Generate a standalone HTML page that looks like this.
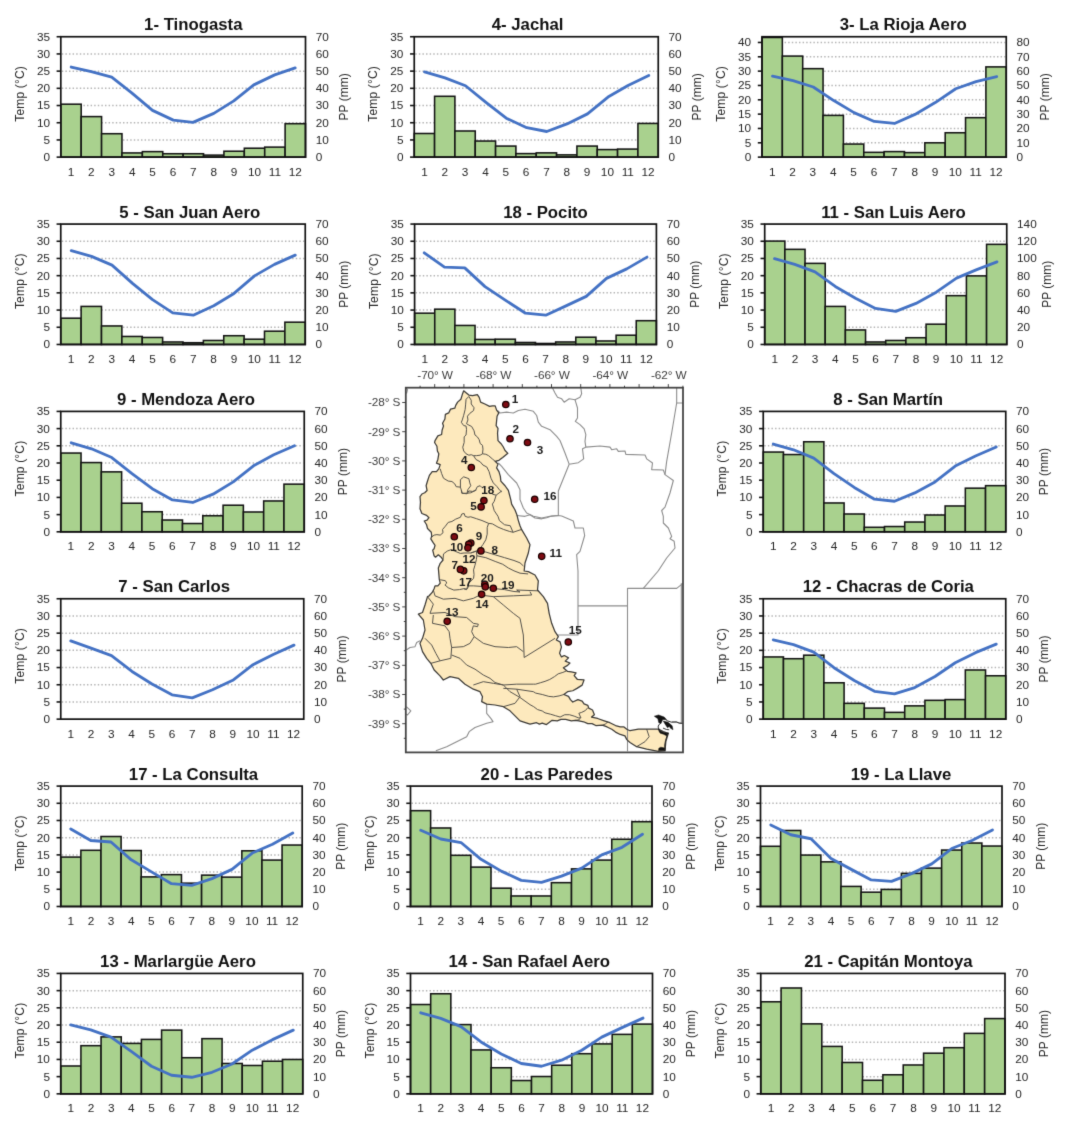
<!DOCTYPE html>
<html lang="es"><head><meta charset="utf-8"><title>Climogramas</title>
<style>html,body{margin:0;padding:0;background:#fff}svg{display:block}text{font-family:"Liberation Sans",sans-serif;fill:#262626}.t{font-size:16.75px;font-weight:bold;text-anchor:middle;fill:#111}.k{font-size:11.8px}.ax{font-size:12px;text-anchor:middle}.e{text-anchor:end}.m{text-anchor:middle}.g{stroke:#b4b4b4;stroke-width:1.5;stroke-dasharray:1.45 2.15;fill:none}.b{fill:#a9d18e;stroke:#141414;stroke-width:1.55}.l{fill:none;stroke:#4472c4;stroke-width:2.85;stroke-linejoin:round;stroke-linecap:round}.fr{fill:none;stroke:#111;stroke-width:1.7}.tk{stroke:#141414;stroke-width:1.6}.ml{font-size:11.8px;fill:#3d3d3d;letter-spacing:-0.1px}.sl{font-size:11.7px;font-weight:bold;text-anchor:middle;fill:#1a1a1a}.pv{fill:none;stroke:#8c8c8c;stroke-width:1.1;stroke-linejoin:round}.sb{fill:none;stroke:#55524b;stroke-width:1;stroke-linejoin:round}.pt{fill:#7d0b12;stroke:#1a0000;stroke-width:1.25}</style></head><body>
<svg width="1068" height="1128" viewBox="0 0 1068 1128">
<defs><filter id="bl" x="0" y="0" width="1068" height="1128" filterUnits="userSpaceOnUse" color-interpolation-filters="sRGB"><feConvolveMatrix order="3" kernelMatrix="0.01134 0.08382 0.01134 0.08382 0.61935 0.08382 0.01134 0.08382 0.01134" divisor="1" edgeMode="duplicate" preserveAlpha="true"/></filter></defs>
<g filter="url(#bl)">
<rect width="1068" height="1128" fill="#fff"/>
<g>
<text class="t" x="193.3" y="30.43">1- Tinogasta</text>
<path class="g" d="M61.8 139.93H304.5"/>
<path class="g" d="M61.8 122.73H304.5"/>
<path class="g" d="M61.8 105.53H304.5"/>
<path class="g" d="M61.8 88.33H304.5"/>
<path class="g" d="M61.8 71.13H304.5"/>
<path class="g" d="M61.8 53.93H304.5"/>
<rect class="b" x="60.8" y="104.19" width="20.39" height="52.94"/>
<rect class="b" x="81.19" y="116.6" width="20.39" height="40.53"/>
<rect class="b" x="101.58" y="133.71" width="20.39" height="23.42"/>
<rect class="b" x="121.97" y="152.93" width="20.39" height="4.2"/>
<rect class="b" x="142.37" y="151.63" width="20.39" height="5.5"/>
<rect class="b" x="162.76" y="153.73" width="20.39" height="3.4"/>
<rect class="b" x="183.15" y="153.73" width="20.39" height="3.4"/>
<rect class="b" x="203.54" y="155.13" width="20.39" height="2"/>
<rect class="b" x="223.93" y="151.23" width="20.39" height="5.9"/>
<rect class="b" x="244.32" y="148.22" width="20.39" height="8.91"/>
<rect class="b" x="264.72" y="147.12" width="20.39" height="10.01"/>
<rect class="b" x="285.11" y="123.7" width="20.39" height="33.43"/>
<rect class="fr" x="60.8" y="36.73" width="244.7" height="120.4"/>
<path class="tk" d="M56.6 157.13H60.8"/>
<text class="k e" x="50" y="161.03">0</text>
<text class="k" x="315.8" y="161.03">0</text>
<path class="tk" d="M56.6 139.93H60.8"/>
<text class="k e" x="50" y="143.83">5</text>
<text class="k" x="315.8" y="143.83">10</text>
<path class="tk" d="M56.6 122.73H60.8"/>
<text class="k e" x="50" y="126.63">10</text>
<text class="k" x="315.8" y="126.63">20</text>
<path class="tk" d="M56.6 105.53H60.8"/>
<text class="k e" x="50" y="109.43">15</text>
<text class="k" x="315.8" y="109.43">30</text>
<path class="tk" d="M56.6 88.33H60.8"/>
<text class="k e" x="50" y="92.23">20</text>
<text class="k" x="315.8" y="92.23">40</text>
<path class="tk" d="M56.6 71.13H60.8"/>
<text class="k e" x="50" y="75.03">25</text>
<text class="k" x="315.8" y="75.03">50</text>
<path class="tk" d="M56.6 53.93H60.8"/>
<text class="k e" x="50" y="57.83">30</text>
<text class="k" x="315.8" y="57.83">60</text>
<path class="tk" d="M56.6 36.73H60.8"/>
<text class="k e" x="50" y="40.63">35</text>
<text class="k" x="315.8" y="40.63">70</text>
<polyline class="l" points="71.2,67.06 91.3,71.66 111.7,77.06 131.7,92.88 152.5,110.39 173.3,120.1 193,122.4 213.8,113.39 233.8,100.88 253.8,84.87 274.7,74.86 295.2,67.86"/>
<text class="k m" x="71" y="175.53">1</text>
<text class="k m" x="91.39" y="175.53">2</text>
<text class="k m" x="111.78" y="175.53">3</text>
<text class="k m" x="132.17" y="175.53">4</text>
<text class="k m" x="152.56" y="175.53">5</text>
<text class="k m" x="172.95" y="175.53">6</text>
<text class="k m" x="193.35" y="175.53">7</text>
<text class="k m" x="213.74" y="175.53">8</text>
<text class="k m" x="234.13" y="175.53">9</text>
<text class="k m" x="254.52" y="175.53">10</text>
<text class="k m" x="274.91" y="175.53">11</text>
<text class="k m" x="295.3" y="175.53">12</text>
<text class="ax" textLength="55.6" transform="translate(24 93.93) rotate(-90)">Temp (°C)</text>
<text class="ax" transform="translate(348 96.93) rotate(-90)">PP (mm)</text>
</g>
<g>
<text class="t" x="527.6" y="30.43">4- Jachal</text>
<path class="g" d="M415.25 139.93H657.25"/>
<path class="g" d="M415.25 122.73H657.25"/>
<path class="g" d="M415.25 105.53H657.25"/>
<path class="g" d="M415.25 88.33H657.25"/>
<path class="g" d="M415.25 71.13H657.25"/>
<path class="g" d="M415.25 53.93H657.25"/>
<rect class="b" x="414.25" y="133.5" width="20.33" height="23.63"/>
<rect class="b" x="434.58" y="96.3" width="20.33" height="60.83"/>
<rect class="b" x="454.92" y="130.99" width="20.33" height="26.14"/>
<rect class="b" x="475.25" y="141.04" width="20.33" height="16.09"/>
<rect class="b" x="495.58" y="146.07" width="20.33" height="11.06"/>
<rect class="b" x="515.92" y="153.61" width="20.33" height="3.52"/>
<rect class="b" x="536.25" y="152.86" width="20.33" height="4.27"/>
<rect class="b" x="556.58" y="154.87" width="20.33" height="2.26"/>
<rect class="b" x="576.92" y="146.07" width="20.33" height="11.06"/>
<rect class="b" x="597.25" y="149.59" width="20.33" height="7.54"/>
<rect class="b" x="617.58" y="149.09" width="20.33" height="8.04"/>
<rect class="b" x="637.92" y="123.45" width="20.33" height="33.68"/>
<rect class="fr" x="414.25" y="36.73" width="244" height="120.4"/>
<path class="tk" d="M410.05 157.13H414.25"/>
<text class="k e" x="403.45" y="161.03">0</text>
<text class="k" x="668.55" y="161.03">0</text>
<path class="tk" d="M410.05 139.93H414.25"/>
<text class="k e" x="403.45" y="143.83">5</text>
<text class="k" x="668.55" y="143.83">10</text>
<path class="tk" d="M410.05 122.73H414.25"/>
<text class="k e" x="403.45" y="126.63">10</text>
<text class="k" x="668.55" y="126.63">20</text>
<path class="tk" d="M410.05 105.53H414.25"/>
<text class="k e" x="403.45" y="109.43">15</text>
<text class="k" x="668.55" y="109.43">30</text>
<path class="tk" d="M410.05 88.33H414.25"/>
<text class="k e" x="403.45" y="92.23">20</text>
<text class="k" x="668.55" y="92.23">40</text>
<path class="tk" d="M410.05 71.13H414.25"/>
<text class="k e" x="403.45" y="75.03">25</text>
<text class="k" x="668.55" y="75.03">50</text>
<path class="tk" d="M410.05 53.93H414.25"/>
<text class="k e" x="403.45" y="57.83">30</text>
<text class="k" x="668.55" y="57.83">60</text>
<path class="tk" d="M410.05 36.73H414.25"/>
<text class="k e" x="403.45" y="40.63">35</text>
<text class="k" x="668.55" y="40.63">70</text>
<polyline class="l" points="424.5,71.92 445,77.95 465.5,85.74 486.25,102.59 506.25,118.17 526.75,127.72 546.75,131.49 567,123.95 587.5,113.9 608,97.06 628,85.49 648.75,75.44"/>
<text class="k m" x="424.42" y="175.53">1</text>
<text class="k m" x="444.75" y="175.53">2</text>
<text class="k m" x="465.08" y="175.53">3</text>
<text class="k m" x="485.42" y="175.53">4</text>
<text class="k m" x="505.75" y="175.53">5</text>
<text class="k m" x="526.08" y="175.53">6</text>
<text class="k m" x="546.42" y="175.53">7</text>
<text class="k m" x="566.75" y="175.53">8</text>
<text class="k m" x="587.08" y="175.53">9</text>
<text class="k m" x="607.42" y="175.53">10</text>
<text class="k m" x="627.75" y="175.53">11</text>
<text class="k m" x="648.08" y="175.53">12</text>
<text class="ax" textLength="55.6" transform="translate(377.45 93.93) rotate(-90)">Temp (°C)</text>
<text class="ax" transform="translate(700.75 96.93) rotate(-90)">PP (mm)</text>
</g>
<g>
<text class="t" x="903.2" y="30.43">3- La Rioja Aero</text>
<path class="g" d="M763 142.8H1005.25"/>
<path class="g" d="M763 128.46H1005.25"/>
<path class="g" d="M763 114.13H1005.25"/>
<path class="g" d="M763 99.8H1005.25"/>
<path class="g" d="M763 85.46H1005.25"/>
<path class="g" d="M763 71.13H1005.25"/>
<path class="g" d="M763 56.8H1005.25"/>
<path class="g" d="M763 42.46H1005.25"/>
<rect class="b" x="762" y="37.48" width="20.35" height="119.65"/>
<rect class="b" x="782.35" y="56.08" width="20.35" height="101.05"/>
<rect class="b" x="802.71" y="68.65" width="20.35" height="88.48"/>
<rect class="b" x="823.06" y="115.4" width="20.35" height="41.73"/>
<rect class="b" x="843.42" y="144.06" width="20.35" height="13.07"/>
<rect class="b" x="863.77" y="152.35" width="20.35" height="4.78"/>
<rect class="b" x="884.12" y="151.6" width="20.35" height="5.53"/>
<rect class="b" x="904.48" y="152.61" width="20.35" height="4.52"/>
<rect class="b" x="924.83" y="142.8" width="20.35" height="14.33"/>
<rect class="b" x="945.19" y="132.75" width="20.35" height="24.38"/>
<rect class="b" x="965.54" y="117.67" width="20.35" height="39.46"/>
<rect class="b" x="985.9" y="66.89" width="20.35" height="90.24"/>
<rect class="fr" x="762" y="36.73" width="244.25" height="120.4"/>
<path class="tk" d="M757.8 157.13H762"/>
<text class="k e" x="751.2" y="161.03">0</text>
<text class="k" x="1016.55" y="161.03">0</text>
<path class="tk" d="M757.8 142.8H762"/>
<text class="k e" x="751.2" y="146.7">5</text>
<text class="k" x="1016.55" y="146.7">10</text>
<path class="tk" d="M757.8 128.46H762"/>
<text class="k e" x="751.2" y="132.36">10</text>
<text class="k" x="1016.55" y="132.36">20</text>
<path class="tk" d="M757.8 114.13H762"/>
<text class="k e" x="751.2" y="118.03">15</text>
<text class="k" x="1016.55" y="118.03">30</text>
<path class="tk" d="M757.8 99.8H762"/>
<text class="k e" x="751.2" y="103.7">20</text>
<text class="k" x="1016.55" y="103.7">40</text>
<path class="tk" d="M757.8 85.46H762"/>
<text class="k e" x="751.2" y="89.36">25</text>
<text class="k" x="1016.55" y="89.36">50</text>
<path class="tk" d="M757.8 71.13H762"/>
<text class="k e" x="751.2" y="75.03">30</text>
<text class="k" x="1016.55" y="75.03">60</text>
<path class="tk" d="M757.8 56.8H762"/>
<text class="k e" x="751.2" y="60.7">35</text>
<text class="k" x="1016.55" y="60.7">70</text>
<path class="tk" d="M757.8 42.46H762"/>
<text class="k e" x="751.2" y="46.36">40</text>
<text class="k" x="1016.55" y="46.36">80</text>
<polyline class="l" points="772.5,76.19 793,80.72 813.25,87 833.75,100.57 854,112.64 874.25,121.44 894.5,123.45 915,114.4 935.25,102.59 955.75,88.76 976,81.72 996.75,76.7"/>
<text class="k m" x="772.18" y="175.53">1</text>
<text class="k m" x="792.53" y="175.53">2</text>
<text class="k m" x="812.89" y="175.53">3</text>
<text class="k m" x="833.24" y="175.53">4</text>
<text class="k m" x="853.59" y="175.53">5</text>
<text class="k m" x="873.95" y="175.53">6</text>
<text class="k m" x="894.3" y="175.53">7</text>
<text class="k m" x="914.66" y="175.53">8</text>
<text class="k m" x="935.01" y="175.53">9</text>
<text class="k m" x="955.36" y="175.53">10</text>
<text class="k m" x="975.72" y="175.53">11</text>
<text class="k m" x="996.07" y="175.53">12</text>
<text class="ax" textLength="55.6" transform="translate(725.2 93.93) rotate(-90)">Temp (°C)</text>
<text class="ax" transform="translate(1048.75 96.93) rotate(-90)">PP (mm)</text>
</g>
<g>
<text class="t" x="189.75" y="217.77">5 - San Juan Aero</text>
<path class="g" d="M61.75 327.27H304.25"/>
<path class="g" d="M61.75 310.07H304.25"/>
<path class="g" d="M61.75 292.87H304.25"/>
<path class="g" d="M61.75 275.67H304.25"/>
<path class="g" d="M61.75 258.47H304.25"/>
<path class="g" d="M61.75 241.27H304.25"/>
<rect class="b" x="60.75" y="318.19" width="20.38" height="26.28"/>
<rect class="b" x="81.12" y="306.42" width="20.38" height="38.05"/>
<rect class="b" x="101.5" y="325.95" width="20.38" height="18.52"/>
<rect class="b" x="121.88" y="336.46" width="20.38" height="8.01"/>
<rect class="b" x="142.25" y="337.46" width="20.38" height="7.01"/>
<rect class="b" x="162.62" y="341.97" width="20.38" height="2.5"/>
<rect class="b" x="183" y="342.72" width="20.38" height="1.75"/>
<rect class="b" x="203.38" y="340.47" width="20.38" height="4"/>
<rect class="b" x="223.75" y="335.71" width="20.38" height="8.76"/>
<rect class="b" x="244.12" y="339.21" width="20.38" height="5.26"/>
<rect class="b" x="264.5" y="331.2" width="20.38" height="13.27"/>
<rect class="b" x="284.88" y="322.19" width="20.38" height="22.28"/>
<rect class="fr" x="60.75" y="224.07" width="244.5" height="120.4"/>
<path class="tk" d="M56.55 344.47H60.75"/>
<text class="k e" x="49.95" y="348.37">0</text>
<text class="k" x="315.55" y="348.37">0</text>
<path class="tk" d="M56.55 327.27H60.75"/>
<text class="k e" x="49.95" y="331.17">5</text>
<text class="k" x="315.55" y="331.17">10</text>
<path class="tk" d="M56.55 310.07H60.75"/>
<text class="k e" x="49.95" y="313.97">10</text>
<text class="k" x="315.55" y="313.97">20</text>
<path class="tk" d="M56.55 292.87H60.75"/>
<text class="k e" x="49.95" y="296.77">15</text>
<text class="k" x="315.55" y="296.77">30</text>
<path class="tk" d="M56.55 275.67H60.75"/>
<text class="k e" x="49.95" y="279.57">20</text>
<text class="k" x="315.55" y="279.57">40</text>
<path class="tk" d="M56.55 258.47H60.75"/>
<text class="k e" x="49.95" y="262.37">25</text>
<text class="k" x="315.55" y="262.37">50</text>
<path class="tk" d="M56.55 241.27H60.75"/>
<text class="k e" x="49.95" y="245.17">30</text>
<text class="k" x="315.55" y="245.17">60</text>
<path class="tk" d="M56.55 224.07H60.75"/>
<text class="k e" x="49.95" y="227.97">35</text>
<text class="k" x="315.55" y="227.97">70</text>
<polyline class="l" points="71.25,250.6 91.5,256.36 112,265.12 132.5,283.39 152.5,299.66 172.75,312.93 193.25,315.18 213.75,305.67 234,293.41 254.5,275.88 274.5,264.37 295.25,255.11"/>
<text class="k m" x="70.94" y="362.87">1</text>
<text class="k m" x="91.31" y="362.87">2</text>
<text class="k m" x="111.69" y="362.87">3</text>
<text class="k m" x="132.06" y="362.87">4</text>
<text class="k m" x="152.44" y="362.87">5</text>
<text class="k m" x="172.81" y="362.87">6</text>
<text class="k m" x="193.19" y="362.87">7</text>
<text class="k m" x="213.56" y="362.87">8</text>
<text class="k m" x="233.94" y="362.87">9</text>
<text class="k m" x="254.31" y="362.87">10</text>
<text class="k m" x="274.69" y="362.87">11</text>
<text class="k m" x="295.06" y="362.87">12</text>
<text class="ax" textLength="55.6" transform="translate(23.95 281.27) rotate(-90)">Temp (°C)</text>
<text class="ax" transform="translate(347.75 284.27) rotate(-90)">PP (mm)</text>
</g>
<g>
<text class="t" x="545.5" y="217.77">18 - Pocito</text>
<path class="g" d="M415.6 327.27H655.4"/>
<path class="g" d="M415.6 310.07H655.4"/>
<path class="g" d="M415.6 292.87H655.4"/>
<path class="g" d="M415.6 275.67H655.4"/>
<path class="g" d="M415.6 258.47H655.4"/>
<path class="g" d="M415.6 241.27H655.4"/>
<rect class="b" x="414.6" y="313.18" width="20.15" height="31.29"/>
<rect class="b" x="434.75" y="309.18" width="20.15" height="35.29"/>
<rect class="b" x="454.9" y="325.45" width="20.15" height="19.02"/>
<rect class="b" x="475.05" y="339.46" width="20.15" height="5.01"/>
<rect class="b" x="495.2" y="339.21" width="20.15" height="5.26"/>
<rect class="b" x="515.35" y="342.47" width="20.15" height="2"/>
<rect class="b" x="535.5" y="343.47" width="20.15" height="1"/>
<rect class="b" x="555.65" y="341.97" width="20.15" height="2.5"/>
<rect class="b" x="575.8" y="337.21" width="20.15" height="7.26"/>
<rect class="b" x="595.95" y="340.97" width="20.15" height="3.5"/>
<rect class="b" x="616.1" y="335.21" width="20.15" height="9.26"/>
<rect class="b" x="636.25" y="320.69" width="20.15" height="23.78"/>
<rect class="fr" x="414.6" y="224.07" width="241.8" height="120.4"/>
<path class="tk" d="M410.4 344.47H414.6"/>
<text class="k e" x="403.8" y="348.37">0</text>
<text class="k" x="666.7" y="348.37">0</text>
<path class="tk" d="M410.4 327.27H414.6"/>
<text class="k e" x="403.8" y="331.17">5</text>
<text class="k" x="666.7" y="331.17">10</text>
<path class="tk" d="M410.4 310.07H414.6"/>
<text class="k e" x="403.8" y="313.97">10</text>
<text class="k" x="666.7" y="313.97">20</text>
<path class="tk" d="M410.4 292.87H414.6"/>
<text class="k e" x="403.8" y="296.77">15</text>
<text class="k" x="666.7" y="296.77">30</text>
<path class="tk" d="M410.4 275.67H414.6"/>
<text class="k e" x="403.8" y="279.57">20</text>
<text class="k" x="666.7" y="279.57">40</text>
<path class="tk" d="M410.4 258.47H414.6"/>
<text class="k e" x="403.8" y="262.37">25</text>
<text class="k" x="666.7" y="262.37">50</text>
<path class="tk" d="M410.4 241.27H414.6"/>
<text class="k e" x="403.8" y="245.17">30</text>
<text class="k" x="666.7" y="245.17">60</text>
<path class="tk" d="M410.4 224.07H414.6"/>
<text class="k e" x="403.8" y="227.97">35</text>
<text class="k" x="666.7" y="227.97">70</text>
<polyline class="l" points="424.25,252.86 444.5,267.12 464.75,267.87 485,286.65 505.25,300.16 525.5,313.18 545.75,315.18 566,305.92 586.25,296.41 606.5,278.39 626.75,268.88 647,257.11"/>
<text class="k m" x="424.68" y="362.87">1</text>
<text class="k m" x="444.83" y="362.87">2</text>
<text class="k m" x="464.98" y="362.87">3</text>
<text class="k m" x="485.12" y="362.87">4</text>
<text class="k m" x="505.27" y="362.87">5</text>
<text class="k m" x="525.42" y="362.87">6</text>
<text class="k m" x="545.58" y="362.87">7</text>
<text class="k m" x="565.73" y="362.87">8</text>
<text class="k m" x="585.88" y="362.87">9</text>
<text class="k m" x="606.02" y="362.87">10</text>
<text class="k m" x="626.17" y="362.87">11</text>
<text class="k m" x="646.32" y="362.87">12</text>
<text class="ax" textLength="55.6" transform="translate(377.8 281.27) rotate(-90)">Temp (°C)</text>
<text class="ax" transform="translate(698.9 284.27) rotate(-90)">PP (mm)</text>
</g>
<g>
<text class="t" x="893.5" y="217.77">11 - San Luis Aero</text>
<path class="g" d="M765.7 327.27H1005.75"/>
<path class="g" d="M765.7 310.07H1005.75"/>
<path class="g" d="M765.7 292.87H1005.75"/>
<path class="g" d="M765.7 275.67H1005.75"/>
<path class="g" d="M765.7 258.47H1005.75"/>
<path class="g" d="M765.7 241.27H1005.75"/>
<rect class="b" x="764.7" y="241.09" width="20.17" height="103.38"/>
<rect class="b" x="784.87" y="249.35" width="20.17" height="95.12"/>
<rect class="b" x="805.04" y="263.37" width="20.17" height="81.1"/>
<rect class="b" x="825.21" y="306.42" width="20.17" height="38.05"/>
<rect class="b" x="845.38" y="329.95" width="20.17" height="14.52"/>
<rect class="b" x="865.55" y="341.97" width="20.17" height="2.5"/>
<rect class="b" x="885.73" y="340.47" width="20.17" height="4"/>
<rect class="b" x="905.9" y="337.71" width="20.17" height="6.76"/>
<rect class="b" x="926.07" y="324.19" width="20.17" height="20.28"/>
<rect class="b" x="946.24" y="295.66" width="20.17" height="48.81"/>
<rect class="b" x="966.41" y="275.88" width="20.17" height="68.59"/>
<rect class="b" x="986.58" y="244.35" width="20.17" height="100.12"/>
<rect class="fr" x="764.7" y="224.07" width="242.05" height="120.4"/>
<path class="tk" d="M760.5 344.47H764.7"/>
<text class="k e" x="753.9" y="348.37">0</text>
<text class="k" x="1017.05" y="348.37">0</text>
<path class="tk" d="M760.5 327.27H764.7"/>
<text class="k e" x="753.9" y="331.17">5</text>
<text class="k" x="1017.05" y="331.17">20</text>
<path class="tk" d="M760.5 310.07H764.7"/>
<text class="k e" x="753.9" y="313.97">10</text>
<text class="k" x="1017.05" y="313.97">40</text>
<path class="tk" d="M760.5 292.87H764.7"/>
<text class="k e" x="753.9" y="296.77">15</text>
<text class="k" x="1017.05" y="296.77">60</text>
<path class="tk" d="M760.5 275.67H764.7"/>
<text class="k e" x="753.9" y="279.57">20</text>
<text class="k" x="1017.05" y="279.57">80</text>
<path class="tk" d="M760.5 258.47H764.7"/>
<text class="k e" x="753.9" y="262.37">25</text>
<text class="k" x="1017.05" y="262.37">100</text>
<path class="tk" d="M760.5 241.27H764.7"/>
<text class="k e" x="753.9" y="245.17">30</text>
<text class="k" x="1017.05" y="245.17">120</text>
<path class="tk" d="M760.5 224.07H764.7"/>
<text class="k e" x="753.9" y="227.97">35</text>
<text class="k" x="1017.05" y="227.97">140</text>
<polyline class="l" points="774.5,258.61 794.75,264.37 815,271.88 835.25,286.4 855.5,298.16 875.5,308.43 895.75,311.43 916,303.42 936.25,292.15 956.5,278.14 976.75,269.63 997,261.87"/>
<text class="k m" x="774.79" y="362.87">1</text>
<text class="k m" x="794.96" y="362.87">2</text>
<text class="k m" x="815.13" y="362.87">3</text>
<text class="k m" x="835.3" y="362.87">4</text>
<text class="k m" x="855.47" y="362.87">5</text>
<text class="k m" x="875.64" y="362.87">6</text>
<text class="k m" x="895.81" y="362.87">7</text>
<text class="k m" x="915.98" y="362.87">8</text>
<text class="k m" x="936.15" y="362.87">9</text>
<text class="k m" x="956.32" y="362.87">10</text>
<text class="k m" x="976.49" y="362.87">11</text>
<text class="k m" x="996.66" y="362.87">12</text>
<text class="ax" textLength="55.6" transform="translate(727.9 281.27) rotate(-90)">Temp (°C)</text>
<text class="ax" transform="translate(1051.25 284.27) rotate(-90)">PP (mm)</text>
</g>
<g>
<text class="t" x="186" y="405.11">9 - Mendoza Aero</text>
<path class="g" d="M61.75 514.61H303.25"/>
<path class="g" d="M61.75 497.41H303.25"/>
<path class="g" d="M61.75 480.21H303.25"/>
<path class="g" d="M61.75 463.01H303.25"/>
<path class="g" d="M61.75 445.81H303.25"/>
<path class="g" d="M61.75 428.61H303.25"/>
<rect class="b" x="60.75" y="453.05" width="20.29" height="78.76"/>
<rect class="b" x="81.04" y="462.58" width="20.29" height="69.23"/>
<rect class="b" x="101.33" y="471.86" width="20.29" height="59.95"/>
<rect class="b" x="121.62" y="503.22" width="20.29" height="28.6"/>
<rect class="b" x="141.92" y="511.74" width="20.29" height="20.07"/>
<rect class="b" x="162.21" y="520.02" width="20.29" height="11.79"/>
<rect class="b" x="182.5" y="523.53" width="20.29" height="8.28"/>
<rect class="b" x="202.79" y="515.76" width="20.29" height="16.05"/>
<rect class="b" x="223.08" y="505.22" width="20.29" height="26.59"/>
<rect class="b" x="243.38" y="511.99" width="20.29" height="19.82"/>
<rect class="b" x="263.67" y="500.96" width="20.29" height="30.85"/>
<rect class="b" x="283.96" y="484.15" width="20.29" height="47.66"/>
<rect class="fr" x="60.75" y="411.41" width="243.5" height="120.4"/>
<path class="tk" d="M56.55 531.81H60.75"/>
<text class="k e" x="49.95" y="535.71">0</text>
<text class="k" x="314.55" y="535.71">0</text>
<path class="tk" d="M56.55 514.61H60.75"/>
<text class="k e" x="49.95" y="518.51">5</text>
<text class="k" x="314.55" y="518.51">10</text>
<path class="tk" d="M56.55 497.41H60.75"/>
<text class="k e" x="49.95" y="501.31">10</text>
<text class="k" x="314.55" y="501.31">20</text>
<path class="tk" d="M56.55 480.21H60.75"/>
<text class="k e" x="49.95" y="484.11">15</text>
<text class="k" x="314.55" y="484.11">30</text>
<path class="tk" d="M56.55 463.01H60.75"/>
<text class="k e" x="49.95" y="466.91">20</text>
<text class="k" x="314.55" y="466.91">40</text>
<path class="tk" d="M56.55 445.81H60.75"/>
<text class="k e" x="49.95" y="449.71">25</text>
<text class="k" x="314.55" y="449.71">50</text>
<path class="tk" d="M56.55 428.61H60.75"/>
<text class="k e" x="49.95" y="432.51">30</text>
<text class="k" x="314.55" y="432.51">60</text>
<path class="tk" d="M56.55 411.41H60.75"/>
<text class="k e" x="49.95" y="415.31">35</text>
<text class="k" x="314.55" y="415.31">70</text>
<polyline class="l" points="71.25,442.76 91.5,448.78 111.75,457.56 132,473.62 152.25,488.67 172.5,499.95 192.75,502.46 213,494.19 233.25,481.89 253.5,465.84 273.75,454.8 294.5,445.77"/>
<text class="k m" x="70.9" y="550.21">1</text>
<text class="k m" x="91.19" y="550.21">2</text>
<text class="k m" x="111.48" y="550.21">3</text>
<text class="k m" x="131.77" y="550.21">4</text>
<text class="k m" x="152.06" y="550.21">5</text>
<text class="k m" x="172.35" y="550.21">6</text>
<text class="k m" x="192.65" y="550.21">7</text>
<text class="k m" x="212.94" y="550.21">8</text>
<text class="k m" x="233.23" y="550.21">9</text>
<text class="k m" x="253.52" y="550.21">10</text>
<text class="k m" x="273.81" y="550.21">11</text>
<text class="k m" x="294.1" y="550.21">12</text>
<text class="ax" textLength="55.6" transform="translate(23.95 468.61) rotate(-90)">Temp (°C)</text>
<text class="ax" transform="translate(346.75 471.61) rotate(-90)">PP (mm)</text>
</g>
<g>
<text class="t" x="888.2" y="405.11">8 - San Martín</text>
<path class="g" d="M764.25 514.61H1004.75"/>
<path class="g" d="M764.25 497.41H1004.75"/>
<path class="g" d="M764.25 480.21H1004.75"/>
<path class="g" d="M764.25 463.01H1004.75"/>
<path class="g" d="M764.25 445.81H1004.75"/>
<path class="g" d="M764.25 428.61H1004.75"/>
<rect class="b" x="763.25" y="452.05" width="20.21" height="79.77"/>
<rect class="b" x="783.46" y="454.55" width="20.21" height="77.26"/>
<rect class="b" x="803.67" y="441.76" width="20.21" height="90.05"/>
<rect class="b" x="823.88" y="502.96" width="20.21" height="28.85"/>
<rect class="b" x="844.08" y="514" width="20.21" height="17.81"/>
<rect class="b" x="864.29" y="527.3" width="20.21" height="4.51"/>
<rect class="b" x="884.5" y="526.54" width="20.21" height="5.27"/>
<rect class="b" x="904.71" y="522.03" width="20.21" height="9.78"/>
<rect class="b" x="924.92" y="515" width="20.21" height="16.81"/>
<rect class="b" x="945.12" y="505.97" width="20.21" height="25.84"/>
<rect class="b" x="965.33" y="488.17" width="20.21" height="43.64"/>
<rect class="b" x="985.54" y="485.66" width="20.21" height="46.15"/>
<rect class="fr" x="763.25" y="411.41" width="242.5" height="120.4"/>
<path class="tk" d="M759.05 531.81H763.25"/>
<text class="k e" x="752.45" y="535.71">0</text>
<text class="k" x="1016.05" y="535.71">0</text>
<path class="tk" d="M759.05 514.61H763.25"/>
<text class="k e" x="752.45" y="518.51">5</text>
<text class="k" x="1016.05" y="518.51">10</text>
<path class="tk" d="M759.05 497.41H763.25"/>
<text class="k e" x="752.45" y="501.31">10</text>
<text class="k" x="1016.05" y="501.31">20</text>
<path class="tk" d="M759.05 480.21H763.25"/>
<text class="k e" x="752.45" y="484.11">15</text>
<text class="k" x="1016.05" y="484.11">30</text>
<path class="tk" d="M759.05 463.01H763.25"/>
<text class="k e" x="752.45" y="466.91">20</text>
<text class="k" x="1016.05" y="466.91">40</text>
<path class="tk" d="M759.05 445.81H763.25"/>
<text class="k e" x="752.45" y="449.71">25</text>
<text class="k" x="1016.05" y="449.71">50</text>
<path class="tk" d="M759.05 428.61H763.25"/>
<text class="k e" x="752.45" y="432.51">30</text>
<text class="k" x="1016.05" y="432.51">60</text>
<path class="tk" d="M759.05 411.41H763.25"/>
<text class="k e" x="752.45" y="415.31">35</text>
<text class="k" x="1016.05" y="415.31">70</text>
<polyline class="l" points="773.25,444.02 793.5,449.79 813.75,458.07 834,473.62 854.25,487.41 874.5,499.2 894.5,501.21 914.75,492.93 935,481.89 955.25,466.09 975.5,456.06 996.25,447.03"/>
<text class="k m" x="773.35" y="550.21">1</text>
<text class="k m" x="793.56" y="550.21">2</text>
<text class="k m" x="813.77" y="550.21">3</text>
<text class="k m" x="833.98" y="550.21">4</text>
<text class="k m" x="854.19" y="550.21">5</text>
<text class="k m" x="874.4" y="550.21">6</text>
<text class="k m" x="894.6" y="550.21">7</text>
<text class="k m" x="914.81" y="550.21">8</text>
<text class="k m" x="935.02" y="550.21">9</text>
<text class="k m" x="955.23" y="550.21">10</text>
<text class="k m" x="975.44" y="550.21">11</text>
<text class="k m" x="995.65" y="550.21">12</text>
<text class="ax" textLength="55.6" transform="translate(726.45 468.61) rotate(-90)">Temp (°C)</text>
<text class="ax" transform="translate(1048.25 471.61) rotate(-90)">PP (mm)</text>
</g>
<g>
<text class="t" x="174.2" y="592.45">7 - San Carlos</text>
<path class="g" d="M61.75 701.95H302.75"/>
<path class="g" d="M61.75 684.75H302.75"/>
<path class="g" d="M61.75 667.55H302.75"/>
<path class="g" d="M61.75 650.35H302.75"/>
<path class="g" d="M61.75 633.15H302.75"/>
<path class="g" d="M61.75 615.95H302.75"/>
<rect class="fr" x="60.75" y="598.75" width="243" height="120.4"/>
<path class="tk" d="M56.55 719.15H60.75"/>
<text class="k e" x="49.95" y="723.05">0</text>
<text class="k" x="314.05" y="723.05">0</text>
<path class="tk" d="M56.55 701.95H60.75"/>
<text class="k e" x="49.95" y="705.85">5</text>
<text class="k" x="314.05" y="705.85">10</text>
<path class="tk" d="M56.55 684.75H60.75"/>
<text class="k e" x="49.95" y="688.65">10</text>
<text class="k" x="314.05" y="688.65">20</text>
<path class="tk" d="M56.55 667.55H60.75"/>
<text class="k e" x="49.95" y="671.45">15</text>
<text class="k" x="314.05" y="671.45">30</text>
<path class="tk" d="M56.55 650.35H60.75"/>
<text class="k e" x="49.95" y="654.25">20</text>
<text class="k" x="314.05" y="654.25">40</text>
<path class="tk" d="M56.55 633.15H60.75"/>
<text class="k e" x="49.95" y="637.05">25</text>
<text class="k" x="314.05" y="637.05">50</text>
<path class="tk" d="M56.55 615.95H60.75"/>
<text class="k e" x="49.95" y="619.85">30</text>
<text class="k" x="314.05" y="619.85">60</text>
<path class="tk" d="M56.55 598.75H60.75"/>
<text class="k e" x="49.95" y="602.65">35</text>
<text class="k" x="314.05" y="602.65">70</text>
<polyline class="l" points="70.75,640.89 91,648.16 111.5,655.69 132,671.49 152,684.03 172,694.82 192.25,697.83 212.5,689.8 232.75,680.27 253,664.72 273.25,654.43 294,645.15"/>
<text class="k m" x="70.88" y="737.55">1</text>
<text class="k m" x="91.12" y="737.55">2</text>
<text class="k m" x="111.38" y="737.55">3</text>
<text class="k m" x="131.62" y="737.55">4</text>
<text class="k m" x="151.88" y="737.55">5</text>
<text class="k m" x="172.12" y="737.55">6</text>
<text class="k m" x="192.38" y="737.55">7</text>
<text class="k m" x="212.62" y="737.55">8</text>
<text class="k m" x="232.88" y="737.55">9</text>
<text class="k m" x="253.12" y="737.55">10</text>
<text class="k m" x="273.38" y="737.55">11</text>
<text class="k m" x="293.62" y="737.55">12</text>
<text class="ax" textLength="55.6" transform="translate(23.95 655.95) rotate(-90)">Temp (°C)</text>
<text class="ax" transform="translate(346.25 658.95) rotate(-90)">PP (mm)</text>
</g>
<g>
<text class="t" x="888.3" y="592.45">12 - Chacras de Coria</text>
<path class="g" d="M764.25 701.95H1004.75"/>
<path class="g" d="M764.25 684.75H1004.75"/>
<path class="g" d="M764.25 667.55H1004.75"/>
<path class="g" d="M764.25 650.35H1004.75"/>
<path class="g" d="M764.25 633.15H1004.75"/>
<path class="g" d="M764.25 615.95H1004.75"/>
<rect class="b" x="763.25" y="656.94" width="20.21" height="62.21"/>
<rect class="b" x="783.46" y="658.7" width="20.21" height="60.45"/>
<rect class="b" x="803.67" y="655.19" width="20.21" height="63.96"/>
<rect class="b" x="823.88" y="682.78" width="20.21" height="36.37"/>
<rect class="b" x="844.08" y="703.35" width="20.21" height="15.8"/>
<rect class="b" x="864.29" y="708.11" width="20.21" height="11.04"/>
<rect class="b" x="884.5" y="712.38" width="20.21" height="6.77"/>
<rect class="b" x="904.71" y="705.86" width="20.21" height="13.29"/>
<rect class="b" x="924.92" y="700.34" width="20.21" height="18.81"/>
<rect class="b" x="945.12" y="699.59" width="20.21" height="19.56"/>
<rect class="b" x="965.33" y="669.99" width="20.21" height="49.16"/>
<rect class="b" x="985.54" y="675.76" width="20.21" height="43.39"/>
<rect class="fr" x="763.25" y="598.75" width="242.5" height="120.4"/>
<path class="tk" d="M759.05 719.15H763.25"/>
<text class="k e" x="752.45" y="723.05">0</text>
<text class="k" x="1016.05" y="723.05">0</text>
<path class="tk" d="M759.05 701.95H763.25"/>
<text class="k e" x="752.45" y="705.85">5</text>
<text class="k" x="1016.05" y="705.85">10</text>
<path class="tk" d="M759.05 684.75H763.25"/>
<text class="k e" x="752.45" y="688.65">10</text>
<text class="k" x="1016.05" y="688.65">20</text>
<path class="tk" d="M759.05 667.55H763.25"/>
<text class="k e" x="752.45" y="671.45">15</text>
<text class="k" x="1016.05" y="671.45">30</text>
<path class="tk" d="M759.05 650.35H763.25"/>
<text class="k e" x="752.45" y="654.25">20</text>
<text class="k" x="1016.05" y="654.25">40</text>
<path class="tk" d="M759.05 633.15H763.25"/>
<text class="k e" x="752.45" y="637.05">25</text>
<text class="k" x="1016.05" y="637.05">50</text>
<path class="tk" d="M759.05 615.95H763.25"/>
<text class="k e" x="752.45" y="619.85">30</text>
<text class="k" x="1016.05" y="619.85">60</text>
<path class="tk" d="M759.05 598.75H763.25"/>
<text class="k e" x="752.45" y="602.65">35</text>
<text class="k" x="1016.05" y="602.65">70</text>
<polyline class="l" points="773.25,639.89 793.5,644.65 813.75,652.18 834,667.73 854.25,680.52 874.5,691.31 894.5,693.82 914.75,687.54 935,676.51 955.25,662.71 975.5,652.68 996.25,644.15"/>
<text class="k m" x="773.35" y="737.55">1</text>
<text class="k m" x="793.56" y="737.55">2</text>
<text class="k m" x="813.77" y="737.55">3</text>
<text class="k m" x="833.98" y="737.55">4</text>
<text class="k m" x="854.19" y="737.55">5</text>
<text class="k m" x="874.4" y="737.55">6</text>
<text class="k m" x="894.6" y="737.55">7</text>
<text class="k m" x="914.81" y="737.55">8</text>
<text class="k m" x="935.02" y="737.55">9</text>
<text class="k m" x="955.23" y="737.55">10</text>
<text class="k m" x="975.44" y="737.55">11</text>
<text class="k m" x="995.65" y="737.55">12</text>
<text class="ax" textLength="55.6" transform="translate(726.45 655.95) rotate(-90)">Temp (°C)</text>
<text class="ax" transform="translate(1048.25 658.95) rotate(-90)">PP (mm)</text>
</g>
<g>
<text class="t" x="193.5" y="779.79">17 - La Consulta</text>
<path class="g" d="M61.75 889.29H301.2"/>
<path class="g" d="M61.75 872.09H301.2"/>
<path class="g" d="M61.75 854.89H301.2"/>
<path class="g" d="M61.75 837.69H301.2"/>
<path class="g" d="M61.75 820.49H301.2"/>
<path class="g" d="M61.75 803.29H301.2"/>
<rect class="b" x="60.75" y="857.08" width="20.12" height="49.41"/>
<rect class="b" x="80.87" y="850.3" width="20.12" height="56.19"/>
<rect class="b" x="100.99" y="836.51" width="20.12" height="69.98"/>
<rect class="b" x="121.11" y="850.55" width="20.12" height="55.94"/>
<rect class="b" x="141.23" y="876.89" width="20.12" height="29.6"/>
<rect class="b" x="161.35" y="874.63" width="20.12" height="31.86"/>
<rect class="b" x="181.47" y="883.16" width="20.12" height="23.33"/>
<rect class="b" x="201.6" y="875.14" width="20.12" height="31.35"/>
<rect class="b" x="221.72" y="877.14" width="20.12" height="29.35"/>
<rect class="b" x="241.84" y="850.81" width="20.12" height="55.68"/>
<rect class="b" x="261.96" y="860.09" width="20.12" height="46.4"/>
<rect class="b" x="282.08" y="845.04" width="20.12" height="61.45"/>
<rect class="fr" x="60.75" y="786.09" width="241.45" height="120.4"/>
<path class="tk" d="M56.55 906.49H60.75"/>
<text class="k e" x="49.95" y="910.39">0</text>
<text class="k" x="312.5" y="910.39">0</text>
<path class="tk" d="M56.55 889.29H60.75"/>
<text class="k e" x="49.95" y="893.19">5</text>
<text class="k" x="312.5" y="893.19">10</text>
<path class="tk" d="M56.55 872.09H60.75"/>
<text class="k e" x="49.95" y="875.99">10</text>
<text class="k" x="312.5" y="875.99">20</text>
<path class="tk" d="M56.55 854.89H60.75"/>
<text class="k e" x="49.95" y="858.79">15</text>
<text class="k" x="312.5" y="858.79">30</text>
<path class="tk" d="M56.55 837.69H60.75"/>
<text class="k e" x="49.95" y="841.59">20</text>
<text class="k" x="312.5" y="841.59">40</text>
<path class="tk" d="M56.55 820.49H60.75"/>
<text class="k e" x="49.95" y="824.39">25</text>
<text class="k" x="312.5" y="824.39">50</text>
<path class="tk" d="M56.55 803.29H60.75"/>
<text class="k e" x="49.95" y="807.19">30</text>
<text class="k" x="312.5" y="807.19">60</text>
<path class="tk" d="M56.55 786.09H60.75"/>
<text class="k e" x="49.95" y="789.99">35</text>
<text class="k" x="312.5" y="789.99">70</text>
<polyline class="l" points="70.75,828.98 90.75,840.52 111,842.03 131.25,859.84 151.5,871.88 171.5,883.66 191.75,885.42 212,878.65 232,869.37 252.25,853.06 272.5,844.28 292.75,833"/>
<text class="k m" x="70.81" y="924.89">1</text>
<text class="k m" x="90.93" y="924.89">2</text>
<text class="k m" x="111.05" y="924.89">3</text>
<text class="k m" x="131.17" y="924.89">4</text>
<text class="k m" x="151.29" y="924.89">5</text>
<text class="k m" x="171.41" y="924.89">6</text>
<text class="k m" x="191.54" y="924.89">7</text>
<text class="k m" x="211.66" y="924.89">8</text>
<text class="k m" x="231.78" y="924.89">9</text>
<text class="k m" x="251.9" y="924.89">10</text>
<text class="k m" x="272.02" y="924.89">11</text>
<text class="k m" x="292.14" y="924.89">12</text>
<text class="ax" textLength="55.6" transform="translate(23.95 843.29) rotate(-90)">Temp (°C)</text>
<text class="ax" transform="translate(344.7 846.29) rotate(-90)">PP (mm)</text>
</g>
<g>
<text class="t" x="546.7" y="779.79">20 - Las Paredes</text>
<path class="g" d="M411.5 889.29H651"/>
<path class="g" d="M411.5 872.09H651"/>
<path class="g" d="M411.5 854.89H651"/>
<path class="g" d="M411.5 837.69H651"/>
<path class="g" d="M411.5 820.49H651"/>
<path class="g" d="M411.5 803.29H651"/>
<rect class="b" x="410.5" y="810.67" width="20.12" height="95.82"/>
<rect class="b" x="430.62" y="827.98" width="20.12" height="78.51"/>
<rect class="b" x="450.75" y="855.32" width="20.12" height="51.17"/>
<rect class="b" x="470.88" y="867.11" width="20.12" height="39.38"/>
<rect class="b" x="491" y="888.18" width="20.12" height="18.31"/>
<rect class="b" x="511.12" y="895.96" width="20.12" height="10.53"/>
<rect class="b" x="531.25" y="895.96" width="20.12" height="10.53"/>
<rect class="b" x="551.38" y="882.66" width="20.12" height="23.83"/>
<rect class="b" x="571.5" y="868.87" width="20.12" height="37.62"/>
<rect class="b" x="591.62" y="860.09" width="20.12" height="46.4"/>
<rect class="b" x="611.75" y="839.27" width="20.12" height="67.22"/>
<rect class="b" x="631.88" y="821.71" width="20.12" height="84.78"/>
<rect class="fr" x="410.5" y="786.09" width="241.5" height="120.4"/>
<path class="tk" d="M406.3 906.49H410.5"/>
<text class="k e" x="399.7" y="910.39">0</text>
<text class="k" x="662.3" y="910.39">0</text>
<path class="tk" d="M406.3 889.29H410.5"/>
<text class="k e" x="399.7" y="893.19">5</text>
<text class="k" x="662.3" y="893.19">10</text>
<path class="tk" d="M406.3 872.09H410.5"/>
<text class="k e" x="399.7" y="875.99">10</text>
<text class="k" x="662.3" y="875.99">20</text>
<path class="tk" d="M406.3 854.89H410.5"/>
<text class="k e" x="399.7" y="858.79">15</text>
<text class="k" x="662.3" y="858.79">30</text>
<path class="tk" d="M406.3 837.69H410.5"/>
<text class="k e" x="399.7" y="841.59">20</text>
<text class="k" x="662.3" y="841.59">40</text>
<path class="tk" d="M406.3 820.49H410.5"/>
<text class="k e" x="399.7" y="824.39">25</text>
<text class="k" x="662.3" y="824.39">50</text>
<path class="tk" d="M406.3 803.29H410.5"/>
<text class="k e" x="399.7" y="807.19">30</text>
<text class="k" x="662.3" y="807.19">60</text>
<path class="tk" d="M406.3 786.09H410.5"/>
<text class="k e" x="399.7" y="789.99">35</text>
<text class="k" x="662.3" y="789.99">70</text>
<polyline class="l" points="420.75,830.24 440.75,839.02 461,842.53 481,859.33 501.25,871.12 521.25,880.4 541.5,882.41 561.5,876.14 581.75,868.11 601.75,854.82 622,847.29 642.5,834.25"/>
<text class="k m" x="420.56" y="924.89">1</text>
<text class="k m" x="440.69" y="924.89">2</text>
<text class="k m" x="460.81" y="924.89">3</text>
<text class="k m" x="480.94" y="924.89">4</text>
<text class="k m" x="501.06" y="924.89">5</text>
<text class="k m" x="521.19" y="924.89">6</text>
<text class="k m" x="541.31" y="924.89">7</text>
<text class="k m" x="561.44" y="924.89">8</text>
<text class="k m" x="581.56" y="924.89">9</text>
<text class="k m" x="601.69" y="924.89">10</text>
<text class="k m" x="621.81" y="924.89">11</text>
<text class="k m" x="641.94" y="924.89">12</text>
<text class="ax" textLength="55.6" transform="translate(373.7 843.29) rotate(-90)">Temp (°C)</text>
<text class="ax" transform="translate(694.5 846.29) rotate(-90)">PP (mm)</text>
</g>
<g>
<text class="t" x="901" y="779.79">19 - La Llave</text>
<path class="g" d="M761.5 889.29H1001"/>
<path class="g" d="M761.5 872.09H1001"/>
<path class="g" d="M761.5 854.89H1001"/>
<path class="g" d="M761.5 837.69H1001"/>
<path class="g" d="M761.5 820.49H1001"/>
<path class="g" d="M761.5 803.29H1001"/>
<rect class="b" x="760.5" y="846.29" width="20.12" height="60.2"/>
<rect class="b" x="780.62" y="830.49" width="20.12" height="76"/>
<rect class="b" x="800.75" y="855.07" width="20.12" height="51.42"/>
<rect class="b" x="820.88" y="861.84" width="20.12" height="44.65"/>
<rect class="b" x="841" y="886.42" width="20.12" height="20.07"/>
<rect class="b" x="861.12" y="892.19" width="20.12" height="14.3"/>
<rect class="b" x="881.25" y="889.43" width="20.12" height="17.06"/>
<rect class="b" x="901.38" y="873.38" width="20.12" height="33.11"/>
<rect class="b" x="921.5" y="868.11" width="20.12" height="38.38"/>
<rect class="b" x="941.62" y="850.05" width="20.12" height="56.44"/>
<rect class="b" x="961.75" y="843.03" width="20.12" height="63.46"/>
<rect class="b" x="981.88" y="846.04" width="20.12" height="60.45"/>
<rect class="fr" x="760.5" y="786.09" width="241.5" height="120.4"/>
<path class="tk" d="M756.3 906.49H760.5"/>
<text class="k e" x="749.7" y="910.39">0</text>
<text class="k" x="1012.3" y="910.39">0</text>
<path class="tk" d="M756.3 889.29H760.5"/>
<text class="k e" x="749.7" y="893.19">5</text>
<text class="k" x="1012.3" y="893.19">10</text>
<path class="tk" d="M756.3 872.09H760.5"/>
<text class="k e" x="749.7" y="875.99">10</text>
<text class="k" x="1012.3" y="875.99">20</text>
<path class="tk" d="M756.3 854.89H760.5"/>
<text class="k e" x="749.7" y="858.79">15</text>
<text class="k" x="1012.3" y="858.79">30</text>
<path class="tk" d="M756.3 837.69H760.5"/>
<text class="k e" x="749.7" y="841.59">20</text>
<text class="k" x="1012.3" y="841.59">40</text>
<path class="tk" d="M756.3 820.49H760.5"/>
<text class="k e" x="749.7" y="824.39">25</text>
<text class="k" x="1012.3" y="824.39">50</text>
<path class="tk" d="M756.3 803.29H760.5"/>
<text class="k e" x="749.7" y="807.19">30</text>
<text class="k" x="1012.3" y="807.19">60</text>
<path class="tk" d="M756.3 786.09H760.5"/>
<text class="k e" x="749.7" y="789.99">35</text>
<text class="k" x="1012.3" y="789.99">70</text>
<polyline class="l" points="770.75,824.97 790.75,834.75 811,838.76 831,858.58 851.25,869.37 871.25,879.9 891.5,881.41 911.5,873.63 931.75,863.85 951.75,848.55 972,840.52 992.5,829.99"/>
<text class="k m" x="770.56" y="924.89">1</text>
<text class="k m" x="790.69" y="924.89">2</text>
<text class="k m" x="810.81" y="924.89">3</text>
<text class="k m" x="830.94" y="924.89">4</text>
<text class="k m" x="851.06" y="924.89">5</text>
<text class="k m" x="871.19" y="924.89">6</text>
<text class="k m" x="891.31" y="924.89">7</text>
<text class="k m" x="911.44" y="924.89">8</text>
<text class="k m" x="931.56" y="924.89">9</text>
<text class="k m" x="951.69" y="924.89">10</text>
<text class="k m" x="971.81" y="924.89">11</text>
<text class="k m" x="991.94" y="924.89">12</text>
<text class="ax" textLength="55.6" transform="translate(723.7 843.29) rotate(-90)">Temp (°C)</text>
<text class="ax" transform="translate(1044.5 846.29) rotate(-90)">PP (mm)</text>
</g>
<g>
<text class="t" x="178" y="967.13">13 - Marlargüe Aero</text>
<path class="g" d="M61.75 1076.63H301.75"/>
<path class="g" d="M61.75 1059.43H301.75"/>
<path class="g" d="M61.75 1042.23H301.75"/>
<path class="g" d="M61.75 1025.03H301.75"/>
<path class="g" d="M61.75 1007.83H301.75"/>
<path class="g" d="M61.75 990.63H301.75"/>
<rect class="b" x="60.75" y="1065.99" width="20.17" height="27.84"/>
<rect class="b" x="80.92" y="1045.67" width="20.17" height="48.16"/>
<rect class="b" x="101.08" y="1036.89" width="20.17" height="56.94"/>
<rect class="b" x="121.25" y="1043.41" width="20.17" height="50.42"/>
<rect class="b" x="141.42" y="1039.4" width="20.17" height="54.43"/>
<rect class="b" x="161.58" y="1030.12" width="20.17" height="63.71"/>
<rect class="b" x="181.75" y="1057.71" width="20.17" height="36.12"/>
<rect class="b" x="201.92" y="1038.65" width="20.17" height="55.18"/>
<rect class="b" x="222.08" y="1063.48" width="20.17" height="30.35"/>
<rect class="b" x="242.25" y="1065.49" width="20.17" height="28.34"/>
<rect class="b" x="262.42" y="1061.22" width="20.17" height="32.61"/>
<rect class="b" x="282.58" y="1059.47" width="20.17" height="34.36"/>
<rect class="fr" x="60.75" y="973.43" width="242" height="120.4"/>
<path class="tk" d="M56.55 1093.83H60.75"/>
<text class="k e" x="49.95" y="1097.73">0</text>
<text class="k" x="313.05" y="1097.73">0</text>
<path class="tk" d="M56.55 1076.63H60.75"/>
<text class="k e" x="49.95" y="1080.53">5</text>
<text class="k" x="313.05" y="1080.53">10</text>
<path class="tk" d="M56.55 1059.43H60.75"/>
<text class="k e" x="49.95" y="1063.33">10</text>
<text class="k" x="313.05" y="1063.33">20</text>
<path class="tk" d="M56.55 1042.23H60.75"/>
<text class="k e" x="49.95" y="1046.13">15</text>
<text class="k" x="313.05" y="1046.13">30</text>
<path class="tk" d="M56.55 1025.03H60.75"/>
<text class="k e" x="49.95" y="1028.93">20</text>
<text class="k" x="313.05" y="1028.93">40</text>
<path class="tk" d="M56.55 1007.83H60.75"/>
<text class="k e" x="49.95" y="1011.73">25</text>
<text class="k" x="313.05" y="1011.73">50</text>
<path class="tk" d="M56.55 990.63H60.75"/>
<text class="k e" x="49.95" y="994.53">30</text>
<text class="k" x="313.05" y="994.53">60</text>
<path class="tk" d="M56.55 973.43H60.75"/>
<text class="k e" x="49.95" y="977.33">35</text>
<text class="k" x="313.05" y="977.33">70</text>
<polyline class="l" points="70.75,1024.85 90.75,1029.87 111,1037.14 131.25,1051.44 151.5,1066.24 171.5,1075.27 191.75,1077.28 212,1072.26 232,1063.98 252.25,1050.19 272.5,1039.65 293.25,1030.12"/>
<text class="k m" x="70.83" y="1112.23">1</text>
<text class="k m" x="91" y="1112.23">2</text>
<text class="k m" x="111.17" y="1112.23">3</text>
<text class="k m" x="131.33" y="1112.23">4</text>
<text class="k m" x="151.5" y="1112.23">5</text>
<text class="k m" x="171.67" y="1112.23">6</text>
<text class="k m" x="191.83" y="1112.23">7</text>
<text class="k m" x="212" y="1112.23">8</text>
<text class="k m" x="232.17" y="1112.23">9</text>
<text class="k m" x="252.33" y="1112.23">10</text>
<text class="k m" x="272.5" y="1112.23">11</text>
<text class="k m" x="292.67" y="1112.23">12</text>
<text class="ax" textLength="55.6" transform="translate(23.95 1030.63) rotate(-90)">Temp (°C)</text>
<text class="ax" transform="translate(345.25 1033.63) rotate(-90)">PP (mm)</text>
</g>
<g>
<text class="t" x="529.3" y="967.13">14 - San Rafael Aero</text>
<path class="g" d="M411.5 1076.63H651.5"/>
<path class="g" d="M411.5 1059.43H651.5"/>
<path class="g" d="M411.5 1042.23H651.5"/>
<path class="g" d="M411.5 1025.03H651.5"/>
<path class="g" d="M411.5 1007.83H651.5"/>
<path class="g" d="M411.5 990.63H651.5"/>
<rect class="b" x="410.5" y="1004.53" width="20.17" height="89.3"/>
<rect class="b" x="430.67" y="993.75" width="20.17" height="100.08"/>
<rect class="b" x="450.83" y="1024.6" width="20.17" height="69.23"/>
<rect class="b" x="471" y="1049.93" width="20.17" height="43.9"/>
<rect class="b" x="491.17" y="1067.74" width="20.17" height="26.09"/>
<rect class="b" x="511.33" y="1080.54" width="20.17" height="13.29"/>
<rect class="b" x="531.5" y="1076.52" width="20.17" height="17.31"/>
<rect class="b" x="551.67" y="1065.24" width="20.17" height="28.6"/>
<rect class="b" x="571.83" y="1053.7" width="20.17" height="40.13"/>
<rect class="b" x="592" y="1043.91" width="20.17" height="49.92"/>
<rect class="b" x="612.17" y="1034.38" width="20.17" height="59.45"/>
<rect class="b" x="632.33" y="1024.1" width="20.17" height="69.73"/>
<rect class="fr" x="410.5" y="973.43" width="242" height="120.4"/>
<path class="tk" d="M406.3 1093.83H410.5"/>
<text class="k e" x="399.7" y="1097.73">0</text>
<text class="k" x="662.8" y="1097.73">0</text>
<path class="tk" d="M406.3 1076.63H410.5"/>
<text class="k e" x="399.7" y="1080.53">5</text>
<text class="k" x="662.8" y="1080.53">10</text>
<path class="tk" d="M406.3 1059.43H410.5"/>
<text class="k e" x="399.7" y="1063.33">10</text>
<text class="k" x="662.8" y="1063.33">20</text>
<path class="tk" d="M406.3 1042.23H410.5"/>
<text class="k e" x="399.7" y="1046.13">15</text>
<text class="k" x="662.8" y="1046.13">30</text>
<path class="tk" d="M406.3 1025.03H410.5"/>
<text class="k e" x="399.7" y="1028.93">20</text>
<text class="k" x="662.8" y="1028.93">40</text>
<path class="tk" d="M406.3 1007.83H410.5"/>
<text class="k e" x="399.7" y="1011.73">25</text>
<text class="k" x="662.8" y="1011.73">50</text>
<path class="tk" d="M406.3 990.63H410.5"/>
<text class="k e" x="399.7" y="994.53">30</text>
<text class="k" x="662.8" y="994.53">60</text>
<path class="tk" d="M406.3 973.43H410.5"/>
<text class="k e" x="399.7" y="977.33">35</text>
<text class="k" x="662.8" y="977.33">70</text>
<polyline class="l" points="420.75,1012.81 440.75,1018.33 461,1026.61 481,1041.91 501.25,1053.95 521.25,1063.48 541.5,1066.24 561.5,1060.22 581.75,1050.19 601.75,1037.14 622,1027.61 643,1018.08"/>
<text class="k m" x="420.58" y="1112.23">1</text>
<text class="k m" x="440.75" y="1112.23">2</text>
<text class="k m" x="460.92" y="1112.23">3</text>
<text class="k m" x="481.08" y="1112.23">4</text>
<text class="k m" x="501.25" y="1112.23">5</text>
<text class="k m" x="521.42" y="1112.23">6</text>
<text class="k m" x="541.58" y="1112.23">7</text>
<text class="k m" x="561.75" y="1112.23">8</text>
<text class="k m" x="581.92" y="1112.23">9</text>
<text class="k m" x="602.08" y="1112.23">10</text>
<text class="k m" x="622.25" y="1112.23">11</text>
<text class="k m" x="642.42" y="1112.23">12</text>
<text class="ax" textLength="55.6" transform="translate(373.7 1030.63) rotate(-90)">Temp (°C)</text>
<text class="ax" transform="translate(695 1033.63) rotate(-90)">PP (mm)</text>
</g>
<g>
<text class="t" x="888.4" y="967.13">21 - Capitán Montoya</text>
<path class="g" d="M761.75 1076.63H1004"/>
<path class="g" d="M761.75 1059.43H1004"/>
<path class="g" d="M761.75 1042.23H1004"/>
<path class="g" d="M761.75 1025.03H1004"/>
<path class="g" d="M761.75 1007.83H1004"/>
<path class="g" d="M761.75 990.63H1004"/>
<rect class="b" x="760.75" y="1001.77" width="20.35" height="92.06"/>
<rect class="b" x="781.1" y="987.98" width="20.35" height="105.85"/>
<rect class="b" x="801.46" y="1023.85" width="20.35" height="69.98"/>
<rect class="b" x="821.81" y="1046.42" width="20.35" height="47.41"/>
<rect class="b" x="842.17" y="1062.48" width="20.35" height="31.35"/>
<rect class="b" x="862.52" y="1080.29" width="20.35" height="13.55"/>
<rect class="b" x="882.88" y="1074.77" width="20.35" height="19.06"/>
<rect class="b" x="903.23" y="1064.98" width="20.35" height="28.85"/>
<rect class="b" x="923.58" y="1053.2" width="20.35" height="40.63"/>
<rect class="b" x="943.94" y="1047.68" width="20.35" height="46.15"/>
<rect class="b" x="964.29" y="1033.38" width="20.35" height="60.45"/>
<rect class="b" x="984.65" y="1018.58" width="20.35" height="75.25"/>
<rect class="fr" x="760.75" y="973.43" width="244.25" height="120.4"/>
<path class="tk" d="M756.55 1093.83H760.75"/>
<text class="k e" x="749.95" y="1097.73">0</text>
<text class="k" x="1015.3" y="1097.73">0</text>
<path class="tk" d="M756.55 1076.63H760.75"/>
<text class="k e" x="749.95" y="1080.53">5</text>
<text class="k" x="1015.3" y="1080.53">10</text>
<path class="tk" d="M756.55 1059.43H760.75"/>
<text class="k e" x="749.95" y="1063.33">10</text>
<text class="k" x="1015.3" y="1063.33">20</text>
<path class="tk" d="M756.55 1042.23H760.75"/>
<text class="k e" x="749.95" y="1046.13">15</text>
<text class="k" x="1015.3" y="1046.13">30</text>
<path class="tk" d="M756.55 1025.03H760.75"/>
<text class="k e" x="749.95" y="1028.93">20</text>
<text class="k" x="1015.3" y="1028.93">40</text>
<path class="tk" d="M756.55 1007.83H760.75"/>
<text class="k e" x="749.95" y="1011.73">25</text>
<text class="k" x="1015.3" y="1011.73">50</text>
<path class="tk" d="M756.55 990.63H760.75"/>
<text class="k e" x="749.95" y="994.53">30</text>
<text class="k" x="1015.3" y="994.53">60</text>
<path class="tk" d="M756.55 973.43H760.75"/>
<text class="k e" x="749.95" y="977.33">35</text>
<text class="k" x="1015.3" y="977.33">70</text>
<text class="k m" x="770.93" y="1112.23">1</text>
<text class="k m" x="791.28" y="1112.23">2</text>
<text class="k m" x="811.64" y="1112.23">3</text>
<text class="k m" x="831.99" y="1112.23">4</text>
<text class="k m" x="852.34" y="1112.23">5</text>
<text class="k m" x="872.7" y="1112.23">6</text>
<text class="k m" x="893.05" y="1112.23">7</text>
<text class="k m" x="913.41" y="1112.23">8</text>
<text class="k m" x="933.76" y="1112.23">9</text>
<text class="k m" x="954.11" y="1112.23">10</text>
<text class="k m" x="974.47" y="1112.23">11</text>
<text class="k m" x="994.82" y="1112.23">12</text>
<text class="ax" textLength="55.6" transform="translate(723.95 1030.63) rotate(-90)">Temp (°C)</text>
<text class="ax" transform="translate(1047.5 1033.63) rotate(-90)">PP (mm)</text>
</g>
<g>
<clipPath id="mc"><rect x="405.8" y="387.7" width="277.2" height="364.7"/></clipPath>
<g clip-path="url(#mc)">
<path d="M463.7 390.82 L466.05 392.7 L468.87 395.05 L472.63 395.52 L477.33 394.58 L479.21 397.4 L480.62 402.1 L484.85 403.98 L489.55 406.33 L492.37 405.86 L495.19 405.86 L496.6 410.09 L498.76 412.91 L497.07 416.2 L496.6 420.89 L496.13 425.59 L498.01 428.41 L497.54 433.11 L498.01 440.63 L500.83 443.45 L503.18 446.74 L505.06 450.5 L507.88 453.32 L502.71 457.55 L498.95 460.37 L495.19 461.31 L498.01 464.13 L496.6 467.89 L498.95 471.65 L500.36 476.35 L500.83 481.05 L505.06 485.74 L508.35 490.44 L509.29 494.02 L510.7 499.4 L511.64 504.1 L514.92 509.74 L516.8 514.44 L518.21 520.08 L520 525.71 L521.67 529.67 L526.67 538 L530 544.67 L528.33 553 L525 563 L524.17 571 L528.33 571.67 L535 575 L538.33 580.83 L537.5 590 L543.33 596.67 L547.5 603.33 L549.17 613.33 L551.67 623.33 L555 631.67 L558.33 636.67 L556.32 640 L560.08 641.88 L561.48 647.05 L559.61 653.16 L561.48 656.92 L564.3 655.51 L568.53 657.86 L565.24 661.15 L569.94 663.03 L567.59 665.38 L563.36 667.73 L567.59 671.48 L571.35 671.95 L576.05 672.89 L574.17 675.71 L577.46 679.47 L584.04 679.94 L582.16 685.11 L576.99 688.4 L572.76 690.75 L567.59 691.69 L563.83 694.51 L568.53 696.39 L570.41 699.68 L572.76 702.03 L577.93 699.68 L582.16 701.09 L584.04 703.91 L587.8 705.32 L588.74 708.14 L592.5 710.02 L594.38 714.72 L591.56 717.07 L597.67 718.48 L604.25 720.83 L609.89 722.71 L615.53 725.53 L620.23 726.94 L623.98 726.94 L626.8 729.29 L630 730.7 L638.33 729.17 L648.33 729.17 L658.33 729.17 L663.33 731.67 L668.33 733.33 L665.83 741.67 L665 750.83 L658.33 751.33 L646.67 749.17 L636.67 746.67 L630 742.44 L626.8 739.62 L624.92 735.86 L620.23 734.45 L615.53 732.11 L611.77 729.29 L607.07 726.94 L602.37 725.06 L595.79 725.53 L592.03 723.65 L587.8 723.65 L583.57 721.77 L578.87 720.83 L575.11 720.36 L571.35 720.83 L565.71 719.42 L561.02 719.42 L557.26 720.83 L552.09 720.36 L546.45 724.59 L542.22 723.18 L539.4 724.12 L536.58 722.71 L530 724.12 L520 720.83 L515 715.83 L510 710.83 L503.33 706.67 L495 705 L486.67 704.17 L481.67 701.67 L482.5 696.67 L480 691.67 L473.33 689.17 L465 684.17 L458.33 678.33 L450 676.67 L443.33 680 L440 675.83 L434.17 670 L430.83 663.33 L426.67 658.33 L422.5 651.67 L420 643.33 L422.5 638.33 L425 630 L423.33 620 L418.33 614.17 L422.5 612.5 L425 605 L427.5 596.67 L428.93 596.02 L432.22 592.44 L434.1 588.68 L435.04 585.86 L437.86 585.86 L440.21 583.05 L439.27 579.29 L438.8 573.65 L438.33 568.01 L440.21 563.31 L443.03 560.02 L441.15 557.2 L438.33 554.85 L435.51 557.2 L434.1 555.79 L432.69 550.15 L434.1 548.74 L435.04 545.45 L433.16 542.63 L430.81 538.87 L431.75 536.05 L431.28 532.29 L427.52 528.53 L426.58 524.77 L424.23 521.02 L427.05 520.08 L428.93 517.73 L426.58 515.38 L421.88 513.5 L420 508.8 L420.47 502.22 L420 496.58 L421.88 494.23 L421.88 494.02 L424.7 492.79 L427.05 490.44 L426.11 485.74 L427.52 481.05 L429.4 475.41 L432.22 471.65 L436.45 471.65 L438.8 468.83 L440.21 464.6 L436.45 463.19 L437.86 459.43 L438.8 453.79 L437.39 450.97 L436.92 446.27 L434.57 442.51 L435.04 440.63 L437.86 435.93 L441.62 434.52 L442.09 430.29 L443.5 426.06 L442.56 423.24 L444.91 419.02 L445.38 414.32 L448.67 412.91 L450.55 409.15 L454.77 408.21 L455.71 405.39 L457.59 402.1 L460.88 399.28 L462.29 394.58Z" fill="#fde9bd" stroke="none"/>
<path class="pv" d="M552.5 388 L555 393 L557.5 397.17 L561.67 398.83 L564.17 402.17 L569.17 398.83 L575 399.67 L580 397.17 L581.67 393.83 L580.83 388"/>
<path class="pv" d="M575 399.67 L577.5 408 L577.5 418 L575.33 421.33 L580 424.67 L584.17 428.83 L585.83 434.67 L585 441.33 L585.83 447.17"/>
<path class="pv" d="M585.83 447.17 L600 446 L610 447.17 L611.67 449.67 L616.67 448.83 L618.33 451.33 L625 451 L625.83 454.33 L645 455 L646.67 458.83 L652.5 463 L651.67 469.67 L663.33 470 L665 474.67 L673.33 480.5 L670 493 L665 507.17 L661.67 510.5 L663.33 516.33 L663.33 523 L668.33 528 L671.67 536.33 L670 538.83 L674.17 541.33 L675 548 L666.67 558 L658.17 571"/>
<path class="pv" d="M676.67 388 L676.67 403 L671.67 433 L666.67 461.33 L665 474.67"/>
<path class="pv" d="M676.67 403 L683 403"/>
<path class="pv" d="M497.5 410.5 L500 413 L506.67 412.17 L513.33 413 L518.33 410.5 L525 409.33 L533.33 411.33 L536.67 415.5 L538.33 422.17 L541.67 426.33 L550 429.67 L556.67 436.33 L560 440.5 L565 453 L569.17 464.17"/>
<path class="pv" d="M585.83 447.17 L582.5 448.83 L583.67 458.83 L578.33 462.67 L569.17 464.17"/>
<path class="pv" d="M569.17 464.17 L558.33 491 L558.33 515.5"/>
<path class="pv" d="M516.67 515.5 L525 516.33 L530 514.67 L535 518 L541.67 518.83 L546.67 517.67 L551.67 516 L558.33 515.5 L561.67 516 L573.33 521 L575 528 L583.33 528 L584.67 535.5 L580 551.33 L576.67 554.67 L578 571"/>
<path class="pv" d="M498.33 463 L501.67 466.33 L508.33 474.67 L516.67 483 L520 489.67 L520 499.67 L523.33 508 L526.67 513 L533.33 516.33 L541.67 518 L550 516.33 L558.33 515.5"/>
<path class="pv" d="M578 571 L578 635 L557.5 635"/>
<path class="pv" d="M578 605.83 L627.5 605.83"/>
<path class="pv" d="M627.5 751.33 L627.5 588.33 L676.67 588.33 L683 583.33"/>
<path class="pv" d="M643.33 588.33 L658.17 571"/>
<path class="pv" d="M681.33 583.33 L681.33 723.33"/>
<path class="pv" d="M671.67 721.67 L683 723.33"/>
<path class="pv" d="M406.33 650 L410 647.5 L415 646.67 L416.67 642.5 L420 640.83"/>
<path class="pv" d="M486.67 704.17 L486.67 713.33 L490.83 718.33 L493 721.67 L486.67 723.33 L475 727.5 L469.17 731.67 L466.67 736.67 L456.67 741.67 L446.67 746.67 L435.83 750.83"/>
<path class="pv" d="M406.33 706.67 L410.83 710.83 L407.5 715 L406.33 714.17"/>
<path class="pv" d="M406.33 388 L407.5 389.67 L406.67 393 L406.33 393.33"/>
<path class="sb" d="M468.87 396.46 L466.05 399.28 L465.58 404.92 L465.11 409.62 L463.7 415.26 L462.29 419.95 L461.35 422.3 L463.7 425.59 L466.05 426.06 L466.52 429.35 L466.05 434.99 L464.17 436.87 L464.17 442.51 L462.76 447.21 L463.7 450.97 L466.05 453.79 L468.87 455.2 L471.22 454.73 L473.57 455.67 L476.39 455.67 L480.15 455.2 L482.5 453.79 L485.79 454.26 L488.61 455.67 L492.37 458.96 L495.19 461.31"/>
<path class="sb" d="M468.87 396.46 L471.22 400.22 L471.22 403.98 L474.04 407.74 L473.57 410.56 L469.81 413.38 L467.46 416.2 L467.93 419.95 L466.52 423.71 L468.87 425.12 L471.69 426.53 L474.04 430.76 L474.98 434.99 L477.33 436.87 L479.21 439.69 L480.15 443.45 L482.5 445.33 L482.97 449.09 L482.5 453.79"/>
<path class="sb" d="M473.57 455.67 L475.92 459.43 L480.15 461.78 L482.97 465.07 L486.73 466.95 L489.08 471.65 L490.96 478.23 L493.31 482.92 L497.07 486.68 L499.89 490.44 L501.77 491.85"/>
<path class="sb" d="M440.21 468.83 L441.62 473.53 L443.5 478.23 L448.2 481.05 L451.95 481.52 L454.77 483.86 L456.18 486.68 L460.41 487.15"/>
<path class="sb" d="M460.41 487.15 L460.41 479.64 L463.7 476.82 L468.87 478.7 L469.81 482.92 L470.75 485.74 L467.93 489.5 L466.99 493.26 L462.29 493.26 L460.41 487.15"/>
<path class="sb" d="M466.99 493.26 L470.75 492.79 L475.45 490.44 L477.33 486.68 L480.15 485.74 L482.03 487.62"/>
<path class="sb" d="M461.35 490 L461.82 493.29 L466.99 493.76 L468.87 490.94 L472.63 491.41 L476.39 490"/>
<path class="sb" d="M501.77 490.94 L496.13 495.17 L492.37 494.23"/>
<path class="sb" d="M496.13 495.17 L494.25 501.28 L492.37 504.1 L494.25 510.68 L498.01 516.32 L499.42 520.55 L504.59 524.77 L510.23 525.71 L513.05 532.29"/>
<path class="sb" d="M431.75 536.99 L434.1 535.11 L436.92 534.64 L440.21 535.11 L443.03 532.76 L442.56 529.47 L445.38 526.18 L448.2 522.42 L451.95 521.48 L455.71 519.14 L460.41 517.26 L461.82 513.97 L464.17 513.5 L465.11 516.32 L467.93 517.26 L470.75 516.79 L476.39 518.67 L482.03 520.55 L488.61 523.36 L492.37 523.83 L498.01 527.12 L503.65 529.47 L509.29 531.35 L513.05 532.29 L520 529.94 L521.97 529.47"/>
<path class="sb" d="M488.61 523.36 L487.2 527.59 L487.2 534.17 L485.79 539.81 L482.97 544.51 L480.15 548.27 L476.39 551.09 L470.75 552.97"/>
<path class="sb" d="M443.03 559.55 L443.5 553.91 L447.26 551.09 L451.02 549.68 L454.77 551.09 L460.41 553.44 L464.17 552.97 L470.75 552.97 L476.39 551.09 L485.79 552.03 L495.19 554.85 L504.59 557.67 L513.98 560.49 L520 562.84 L523.48 566.03"/>
<path class="sb" d="M476.39 551.09 L476.86 555.79 L476.39 559.55 L474.98 565.19 L473.57 569.89 L474.04 574.59 L473.57 578.35 L468.87 583.05 L466.52 589.62 L463.7 588.68"/>
<path class="sb" d="M476.86 555.79 L485.79 557.67 L495.19 561.43 L502.71 564.25 L508.35 568.01 L513.98 570.83 L520 573.18 L528.08 573.93"/>
<path class="sb" d="M440.21 579.76 L445.38 580.7 L446.79 583.05 L444.91 584.92 L448.2 587.74 L453.83 590.09 L459.47 589.62 L463.7 588.68 L466.99 589.15 L468.87 585.86 L473.57 585.86 L480.15 586.33 L485.79 586.8 L495.19 588.68 L504.59 589.62 L513.98 591.5 L520 591.97 L516.67 590 L538.33 590.83"/>
<path class="sb" d="M433.33 590 L435 595.83 L443.33 599.17 L455 598.33 L463.33 600.83 L473.33 598.33 L480 595 L493.33 596.67 L513.33 595.83 L531.67 595 L530 591.67"/>
<path class="sb" d="M493.33 596.67 L503.33 605 L513.33 613.33 L520 618.33 L523.33 635 L524.17 657.5 L555 638.33"/>
<path class="sb" d="M427.5 596.67 L433.33 604.17 L430 613.33 L445 612.5 L455 616.67 L466.67 617.5 L473.33 623.33 L478.33 624.17 L477.5 626.67 L473.33 625.83 L471.67 631.67 L474.17 636.67 L470 643.33 L463.33 646.67 L451.67 647.5"/>
<path class="sb" d="M433.33 615 L432.5 623.33 L445 625.83 L449.17 631.67 L450 638.33 L451.67 647.5 L450.83 658.33 L440 660.83"/>
<path class="sb" d="M474.17 636.67 L483.33 643.33 L495 646.67 L508.33 647.5 L516.67 646.67 L523.33 651.67"/>
<path class="sb" d="M425 638.33 L431.67 645 L435.83 653.33 L440 660.83 L430.83 663.33"/>
<path class="sb" d="M451.67 655 L460 658.33 L466.67 665 L475 669.17 L483.33 675 L490 678.33 L495 682.5 L503.33 685 L516.67 684.17 L533.33 684.17 L535.64 684.17 L540.34 682.76 L545.04 681.35 L549.74 679.47 L554.44 676.65 L558.2 673.83 L562.89 672.42 L566.18 671.02"/>
<path class="sb" d="M473.33 685 L483.33 681.67 L493.33 683.33 L503.33 685"/>
<path class="sb" d="M503.33 685 L510 691.67 L520 697.5 L530 704.67 L533.76 706.73 L537.52 709.55 L542.22 710.96 L545.04 712.84 L550.68 714.25 L555.38 715.66 L560.08 717.07 L564.77 714.72 L569.47 714.72 L574.17 716.13 L578.87 718.01 L580.75 717.54"/>
<path class="sb" d="M503.33 688.33 L516.67 689.17 L533.33 691.67 L533.33 691.67 L535.64 693.1 L542.22 694.51 L548.8 696.39 L553.5 696.86 L559.14 695.92 L563.83 694.51"/>
<path class="sb" d="M516.67 689.17 L520 696.67 L515 703.33 L503.33 706.67"/>
<path class="sb" d="M587.8 707.67 L585.45 710.49 L581.69 712.37 L578.87 713.31 L580.75 717.54 L578.87 719.89 L575.11 720.36"/>
<path class="sb" d="M608.01 721.77 L605.19 724.12 L602.84 725.06"/>
<path class="sb" d="M646.67 729.17 L649.17 736.67 L645 741.67 L636.67 746.67"/>
<path d="M463.7 390.82 L466.05 392.7 L468.87 395.05 L472.63 395.52 L477.33 394.58 L479.21 397.4 L480.62 402.1 L484.85 403.98 L489.55 406.33 L492.37 405.86 L495.19 405.86 L496.6 410.09 L498.76 412.91 L497.07 416.2 L496.6 420.89 L496.13 425.59 L498.01 428.41 L497.54 433.11 L498.01 440.63 L500.83 443.45 L503.18 446.74 L505.06 450.5 L507.88 453.32 L502.71 457.55 L498.95 460.37 L495.19 461.31 L498.01 464.13 L496.6 467.89 L498.95 471.65 L500.36 476.35 L500.83 481.05 L505.06 485.74 L508.35 490.44 L509.29 494.02 L510.7 499.4 L511.64 504.1 L514.92 509.74 L516.8 514.44 L518.21 520.08 L520 525.71 L521.67 529.67 L526.67 538 L530 544.67 L528.33 553 L525 563 L524.17 571 L528.33 571.67 L535 575 L538.33 580.83 L537.5 590 L543.33 596.67 L547.5 603.33 L549.17 613.33 L551.67 623.33 L555 631.67 L558.33 636.67 L556.32 640 L560.08 641.88 L561.48 647.05 L559.61 653.16 L561.48 656.92 L564.3 655.51 L568.53 657.86 L565.24 661.15 L569.94 663.03 L567.59 665.38 L563.36 667.73 L567.59 671.48 L571.35 671.95 L576.05 672.89 L574.17 675.71 L577.46 679.47 L584.04 679.94 L582.16 685.11 L576.99 688.4 L572.76 690.75 L567.59 691.69 L563.83 694.51 L568.53 696.39 L570.41 699.68 L572.76 702.03 L577.93 699.68 L582.16 701.09 L584.04 703.91 L587.8 705.32 L588.74 708.14 L592.5 710.02 L594.38 714.72 L591.56 717.07 L597.67 718.48 L604.25 720.83 L609.89 722.71 L615.53 725.53 L620.23 726.94 L623.98 726.94 L626.8 729.29 L630 730.7 L638.33 729.17 L648.33 729.17 L658.33 729.17 L663.33 731.67 L668.33 733.33 L665.83 741.67 L665 750.83 L658.33 751.33 L646.67 749.17 L636.67 746.67 L630 742.44 L626.8 739.62 L624.92 735.86 L620.23 734.45 L615.53 732.11 L611.77 729.29 L607.07 726.94 L602.37 725.06 L595.79 725.53 L592.03 723.65 L587.8 723.65 L583.57 721.77 L578.87 720.83 L575.11 720.36 L571.35 720.83 L565.71 719.42 L561.02 719.42 L557.26 720.83 L552.09 720.36 L546.45 724.59 L542.22 723.18 L539.4 724.12 L536.58 722.71 L530 724.12 L520 720.83 L515 715.83 L510 710.83 L503.33 706.67 L495 705 L486.67 704.17 L481.67 701.67 L482.5 696.67 L480 691.67 L473.33 689.17 L465 684.17 L458.33 678.33 L450 676.67 L443.33 680 L440 675.83 L434.17 670 L430.83 663.33 L426.67 658.33 L422.5 651.67 L420 643.33 L422.5 638.33 L425 630 L423.33 620 L418.33 614.17 L422.5 612.5 L425 605 L427.5 596.67 L428.93 596.02 L432.22 592.44 L434.1 588.68 L435.04 585.86 L437.86 585.86 L440.21 583.05 L439.27 579.29 L438.8 573.65 L438.33 568.01 L440.21 563.31 L443.03 560.02 L441.15 557.2 L438.33 554.85 L435.51 557.2 L434.1 555.79 L432.69 550.15 L434.1 548.74 L435.04 545.45 L433.16 542.63 L430.81 538.87 L431.75 536.05 L431.28 532.29 L427.52 528.53 L426.58 524.77 L424.23 521.02 L427.05 520.08 L428.93 517.73 L426.58 515.38 L421.88 513.5 L420 508.8 L420.47 502.22 L420 496.58 L421.88 494.23 L421.88 494.02 L424.7 492.79 L427.05 490.44 L426.11 485.74 L427.52 481.05 L429.4 475.41 L432.22 471.65 L436.45 471.65 L438.8 468.83 L440.21 464.6 L436.45 463.19 L437.86 459.43 L438.8 453.79 L437.39 450.97 L436.92 446.27 L434.57 442.51 L435.04 440.63 L437.86 435.93 L441.62 434.52 L442.09 430.29 L443.5 426.06 L442.56 423.24 L444.91 419.02 L445.38 414.32 L448.67 412.91 L450.55 409.15 L454.77 408.21 L455.71 405.39 L457.59 402.1 L460.88 399.28 L462.29 394.58Z" fill="none" stroke="#3d3b37" stroke-width="1.25" stroke-linejoin="round"/>
<path d="M654.33 716.18 L658.54 714.94 L664.16 717.02 L666.69 719.78 L662.75 719.38 L661.07 723.31 L658.82 722.75 L657.87 718.82Z" fill="#111" stroke="#111" stroke-width="0.5" stroke-linejoin="round"/>
<path d="M663.31 721.07 L668.09 722.36 L672.13 725.73 L673.03 729.66 L670.62 728.37 L669.21 726.4 L667.53 727.81 L665 723.88Z" fill="#111" stroke="#111" stroke-width="0.5" stroke-linejoin="round"/>
<path d="M658.54 728.09 L659.66 730.62 L662.47 732.02 L666.4 733.15 L668.37 732.87 L666.97 735.96 L663.6 734.27 L660.22 733.15 L658.82 730.9Z" fill="#111" stroke="#111" stroke-width="0.5" stroke-linejoin="round"/>
<path d="M658.82 748.31 L660.79 747.19 L664.72 748.03 L664.72 750.56 L658.54 750.56Z" fill="#111" stroke="#111" stroke-width="0.5" stroke-linejoin="round"/>
<path d="M666.4 720.51 L671.46 722.19 L676.52 721.8 L679.33 723.31 L682.98 723.31" fill="none" stroke="#1c1c1c" stroke-width="0.9"/>
<path d="M661.07 723.03 L658.82 724.72 L658.09 726.97 L658.65 728.37" fill="none" stroke="#1c1c1c" stroke-width="0.9"/>
<path d="M663.03 728.09 L666.4 729.49 L669.21 729.78" fill="none" stroke="#1c1c1c" stroke-width="0.9"/>
<path d="M667.08 735.67 L665.56 740.45 L664.72 744.94 L665 750.56" fill="none" stroke="#1c1c1c" stroke-width="0.9"/>
</g>
<rect x="405.8" y="387.7" width="277.2" height="364.7" fill="none" stroke="#454545" stroke-width="1.8"/>
<path d="M420.1 387.7V385.7M434.7 387.7V384.1M449.3 387.7V385.7M463.9 387.7V384.1M478.5 387.7V385.7M493.1 387.7V384.1M507.7 387.7V385.7M522.3 387.7V384.1M536.9 387.7V385.7M551.5 387.7V384.1M566.1 387.7V385.7M580.7 387.7V384.1M595.3 387.7V385.7M609.9 387.7V384.1M624.5 387.7V385.7M639.1 387.7V384.1M653.7 387.7V385.7M668.3 387.7V384.1M682.9 387.7V385.7M405.8 402.5H402.2M405.8 417.1H403.8M405.8 431.7H402.2M405.8 446.3H403.8M405.8 460.9H402.2M405.8 475.5H403.8M405.8 490.1H402.2M405.8 504.7H403.8M405.8 519.3H402.2M405.8 533.9H403.8M405.8 548.5H402.2M405.8 563.1H403.8M405.8 577.7H402.2M405.8 592.3H403.8M405.8 606.9H402.2M405.8 621.5H403.8M405.8 636.1H402.2M405.8 650.7H403.8M405.8 665.3H402.2M405.8 679.9H403.8M405.8 694.5H402.2M405.8 709.1H403.8M405.8 723.7H402.2M405.8 738.3H403.8" stroke="#333" stroke-width="0.9" fill="none"/>
<text class="ml m" x="435.1" y="379">-70° W</text>
<text class="ml m" x="493.5" y="379">-68° W</text>
<text class="ml m" x="551.9" y="379">-66° W</text>
<text class="ml m" x="610.3" y="379">-64° W</text>
<text class="ml m" x="668.7" y="379">-62° W</text>
<text class="ml e" x="400.3" y="406.3">-28° S</text>
<text class="ml e" x="400.3" y="435.5">-29° S</text>
<text class="ml e" x="400.3" y="464.7">-30° S</text>
<text class="ml e" x="400.3" y="493.9">-31° S</text>
<text class="ml e" x="400.3" y="523.1">-32° S</text>
<text class="ml e" x="400.3" y="552.3">-33° S</text>
<text class="ml e" x="400.3" y="581.5">-34° S</text>
<text class="ml e" x="400.3" y="610.7">-35° S</text>
<text class="ml e" x="400.3" y="639.9">-36° S</text>
<text class="ml e" x="400.3" y="669.1">-37° S</text>
<text class="ml e" x="400.3" y="698.3">-38° S</text>
<text class="ml e" x="400.3" y="727.5">-39° S</text>
<circle class="pt" cx="505.8" cy="404.5" r="3.2"/>
<circle class="pt" cx="510" cy="438.7" r="3.2"/>
<circle class="pt" cx="527.5" cy="442.5" r="3.2"/>
<circle class="pt" cx="471.3" cy="467.5" r="3.2"/>
<circle class="pt" cx="483.9" cy="500.5" r="3.2"/>
<circle class="pt" cx="481.1" cy="506.9" r="3.2"/>
<circle class="pt" cx="454.3" cy="536.7" r="3.2"/>
<circle class="pt" cx="534.7" cy="499.3" r="3.2"/>
<circle class="pt" cx="470.8" cy="543.1" r="3.2"/>
<circle class="pt" cx="468.7" cy="544.3" r="3.2"/>
<circle class="pt" cx="467.9" cy="547.8" r="3.2"/>
<circle class="pt" cx="480.9" cy="550.9" r="3.2"/>
<circle class="pt" cx="541.7" cy="556.3" r="3.2"/>
<circle class="pt" cx="463.7" cy="570.8" r="3.2"/>
<circle class="pt" cx="460.4" cy="569.4" r="3.2"/>
<circle class="pt" cx="484.8" cy="584.2" r="3.2"/>
<circle class="pt" cx="485.3" cy="586.8" r="3.2"/>
<circle class="pt" cx="493.3" cy="588.2" r="3.2"/>
<circle class="pt" cx="481.6" cy="594.3" r="3.2"/>
<circle class="pt" cx="447.2" cy="621.3" r="3.2"/>
<circle class="pt" cx="568.3" cy="642" r="3.2"/>
<text class="sl" x="515" y="403.3">1</text>
<text class="sl" x="515.8" y="433.3">2</text>
<text class="sl" x="540" y="453.8">3</text>
<text class="sl" x="464.2" y="464.1">4</text>
<text class="sl" x="487.8" y="494.1">18</text>
<text class="sl" x="473.6" y="509.6">5</text>
<text class="sl" x="459.5" y="531.7">6</text>
<text class="sl" x="550" y="499.9">16</text>
<text class="sl" x="479" y="539.7">9</text>
<text class="sl" x="456.8" y="550.8">10</text>
<text class="sl" x="494.7" y="554">8</text>
<text class="sl" x="555.8" y="557.1">11</text>
<text class="sl" x="468.9" y="562.5">12</text>
<text class="sl" x="465.6" y="586">17</text>
<text class="sl" x="454.8" y="569.3">7</text>
<text class="sl" x="487.2" y="581.5">20</text>
<text class="sl" x="507.9" y="588.6">19</text>
<text class="sl" x="482" y="608.3">14</text>
<text class="sl" x="452" y="616.3">13</text>
<text class="sl" x="575.3" y="633.8">15</text>
</g>
</g></svg></body></html>
